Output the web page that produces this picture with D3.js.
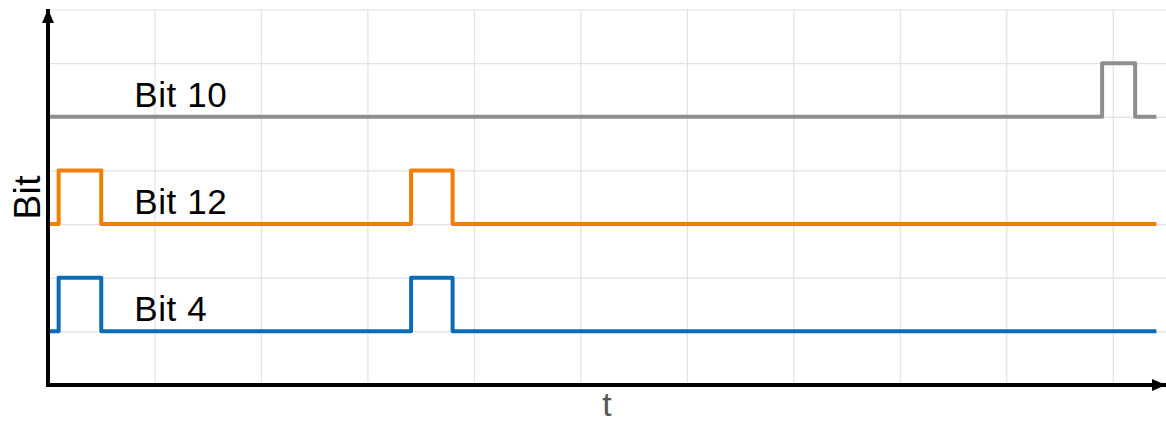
<!DOCTYPE html>
<html>
<head>
<meta charset="utf-8">
<script src="https://cdn.jsdelivr.net/npm/d3@7"></script>
<style>
  html, body { margin: 0; padding: 0; background: #fff; }
  svg { display: block; }
</style>
</head>
<body>
<svg id="chart" width="1166" height="423"></svg>
<script>
// ---- data ----
const seriesNames = ["Bit 4", "Bit 12", "Bit 10"];
const seriesColors = ["#0a6cb6", "#f07f00", "#8e8e8e"];
const seriesBase = [1, 3, 5];             // low level of each trace (in grid units)
const bit4Times  = [0, 0.10, 0.50, 3.41, 3.80, 10.41];
const bit4Levels = [0, 1, 0, 1, 0, 0];
const bit12Times  = [0, 0.10, 0.50, 3.41, 3.80, 10.41];
const bit12Levels = [0, 1, 0, 1, 0, 0];
const bit10Times  = [0, 9.90, 10.21, 10.41];
const bit10Levels = [0, 1, 0, 0];
const gridXValues = [1, 2, 3, 4, 5, 6, 7, 8, 9, 10];
const gridYValues = [1, 2, 3, 4, 5, 6, 7];
const xTitle = "t";
const yTitle = "Bit";

const allTimes = [bit4Times, bit12Times, bit10Times];
const allLevels = [bit4Levels, bit12Levels, bit10Levels];

// ---- layout ----
const svg = d3.select("#chart");
const x = d3.scaleLinear().domain([0, 10.5]).range([48, 1166]);
const y = d3.scaleLinear().domain([0, 7]).range([385, 9.5]);
const FONT = "Liberation Sans, Arial, sans-serif";

// grid
svg.append("g")
  .attr("transform", `translate(0,${y(0)})`)
  .call(d3.axisBottom(x).tickValues(gridXValues).tickSize(-(y(0) - y(7))).tickFormat(""))
  .call(g => g.select(".domain").remove())
  .call(g => g.selectAll(".tick line").attr("stroke", "#e2e2e2").attr("stroke-width", 1.2));

svg.append("g")
  .attr("transform", `translate(${x(0)},0)`)
  .call(d3.axisLeft(y).tickValues(gridYValues).tickSize(-(x(10.5) - x(0))).tickFormat(""))
  .call(g => g.select(".domain").remove())
  .call(g => g.selectAll(".tick line").attr("stroke", "#e2e2e2").attr("stroke-width", 1.2));

// traces
const line = d3.line()
  .x(d => x(d.t))
  .y(d => y(d.v))
  .curve(d3.curveStepAfter);

seriesNames.forEach((name, i) => {
  const pts = allTimes[i].map((t, k) => ({ t: t, v: seriesBase[i] + allLevels[i][k] }));
  svg.append("path")
    .datum(pts)
    .attr("d", line)
    .attr("fill", "none")
    .attr("stroke", seriesColors[i])
    .attr("stroke-width", 4)
    .attr("stroke-linejoin", "round");
  svg.append("text")
    .attr("x", x(0.81))
    .attr("y", y(seriesBase[i]) - 10)
    .attr("font-family", FONT)
    .attr("font-size", 35)
    .attr("letter-spacing", 0.6)
    .attr("fill", "#000")
    .text(name);
});

// axes with arrows
const defs = svg.append("defs");
defs.append("marker")
  .attr("id", "arrow")
  .attr("viewBox", "0 0 14 12")
  .attr("refX", 14).attr("refY", 6)
  .attr("markerWidth", 14).attr("markerHeight", 12)
  .attr("markerUnits", "userSpaceOnUse")
  .attr("orient", "auto")
  .append("path")
  .attr("d", "M0,0 L14,6 L0,12 Z")
  .attr("fill", "#000");

svg.append("line")
  .attr("x1", x(0)).attr("y1", y(0))
  .attr("x2", x(0)).attr("y2", 9)
  .attr("stroke", "#000").attr("stroke-width", 4)
  .attr("marker-end", "url(#arrow)");
svg.append("line")
  .attr("x1", x(0) - 2).attr("y1", y(0))
  .attr("x2", 1166).attr("y2", y(0))
  .attr("stroke", "#000").attr("stroke-width", 4)
  .attr("marker-end", "url(#arrow)");

// titles
svg.append("text")
  .attr("transform", `translate(40,${(y(0) + y(7)) / 2}) rotate(-90)`)
  .attr("text-anchor", "middle")
  .attr("font-family", FONT)
  .attr("font-size", 37)
  .attr("letter-spacing", 0.5)
  .attr("fill", "#000")
  .text(yTitle);

svg.append("text")
  .attr("x", (x(0) + x(10.5)) / 2)
  .attr("y", 416)
  .attr("text-anchor", "middle")
  .attr("font-family", FONT)
  .attr("font-size", 34)
  .attr("fill", "#555")
  .text(xTitle);
</script>
</body>
</html>
